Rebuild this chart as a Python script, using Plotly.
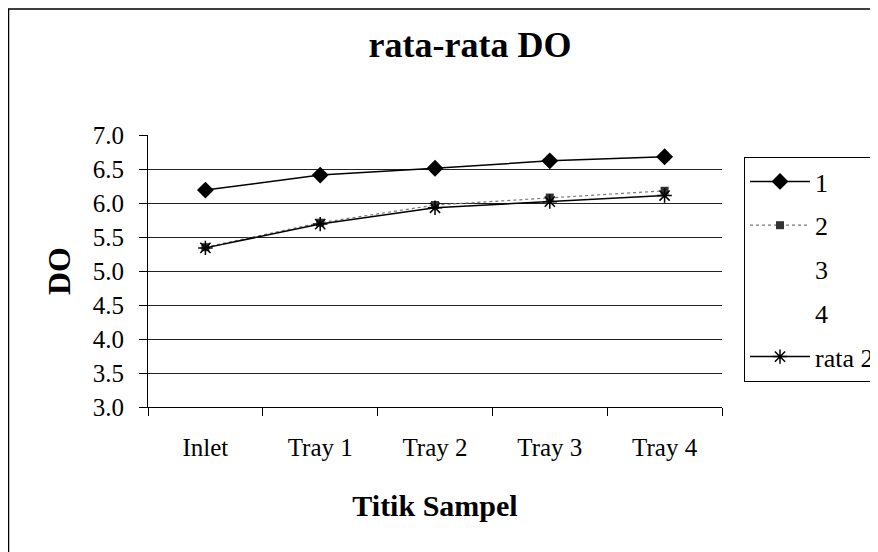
import plotly.graph_objects as go

categories = ["Inlet", "Tray 1", "Tray 2", "Tray 3", "Tray 4"]
series_1 = [6.19, 6.41, 6.51, 6.62, 6.68]
series_2 = [5.35, 5.71, 5.97, 6.08, 6.18]
series_3 = [None, None, None, None, None]
series_4 = [None, None, None, None, None]
rata_2 = [5.34, 5.69, 5.93, 6.02, 6.11]
y_ticks = [3.0, 3.5, 4.0, 4.5, 5.0, 5.5, 6.0, 6.5, 7.0]
grid_vals = [3.5, 4.0, 4.5, 5.0, 5.5, 6.0, 6.5]

FONT = "Liberation Serif"
W, H = 870, 544
L, R, T, B = 140, 156, 127, 145
PW, PH = W - L - R, H - T - B

fig = go.Figure()
fig.add_trace(go.Scatter(
    x=categories, y=series_1, name="1", mode="lines+markers",
    line=dict(color="black", width=1.5),
    marker=dict(symbol="diamond", size=13, color="black"),
    legendgroup="a"))
fig.add_trace(go.Scatter(
    x=categories, y=series_2, name="2", mode="lines+markers",
    line=dict(color="#777777", width=1.2, dash="dot"),
    marker=dict(symbol="square", size=8, color="#333333"),
    legendgroup="b"))
fig.add_trace(go.Scatter(
    x=categories, y=series_3, name="3", mode="lines",
    line=dict(color="rgba(0,0,0,0)", width=1),
    legendgroup="c"))
fig.add_trace(go.Scatter(
    x=categories, y=series_4, name="4", mode="lines",
    line=dict(color="rgba(0,0,0,0)", width=1),
    legendgroup="d"))
fig.add_trace(go.Scatter(
    x=categories, y=rata_2, name="rata 2", mode="lines+markers",
    line=dict(color="black", width=1.5),
    marker=dict(symbol="asterisk-open", size=12, color="black",
                line=dict(color="black", width=1.5)),
    legendgroup="e"))

fig.add_trace(go.Scatter(x=categories, y=[None]*5, yaxis="y2", showlegend=False,
                         hoverinfo="skip"))

fig.update_layout(
    width=W, height=H,
    margin=dict(l=L, r=R, t=T, b=B, autoexpand=False),
    paper_bgcolor="white", plot_bgcolor="white",
    font=dict(family=FONT, color="black", size=25),
    title=dict(text="<b>rata-rata DO</b>", x=462/W, xanchor="center", xref="container",
               y=1 - 36/H, yanchor="middle", yref="container",
               font=dict(family=FONT, size=36, color="black")),
    xaxis=dict(
        type="category", range=[-0.5, 4.5],
        showline=True, linecolor="black", linewidth=1,
        ticks="outside", tickson="boundaries", ticklen=8, tickcolor="black",
        ticklabelstandoff=18,
        showgrid=False, tickfont=dict(size=25, family=FONT),
        title=dict(text="<b>Titik Sampel</b>", font=dict(size=30, family=FONT),
                   standoff=34),
    ),
    yaxis=dict(
        range=[3, 7], tickvals=y_ticks, tickformat=".1f",
        showline=True, linecolor="black", linewidth=1,
        ticks="outside", ticklen=8, tickcolor="black",
        ticklabelstandoff=10,
        showgrid=False, zeroline=False, tickfont=dict(size=25, family=FONT),
        title=dict(text="<b>DO</b>", font=dict(size=32, family=FONT), standoff=12),
    ),
    yaxis2=dict(
        range=[3, 7], overlaying="y", tickvals=grid_vals, showticklabels=False,
        showgrid=True, gridcolor="#222222", gridwidth=1, zeroline=False,
        ticks="",
    ),
    legend=dict(
        x=(736 - L) / PW, y=(H - B - 149) / PH, xanchor="left", yanchor="top",
        bordercolor="black", borderwidth=1, bgcolor="white",
        font=dict(size=26, family=FONT), traceorder="grouped",
        tracegroupgap=7, itemwidth=60,
    ),
    showlegend=True,
    shapes=[dict(type="rect", xref="paper", yref="paper",
                 x0=(0.5 - L) / PW, x1=(W + 10 - L) / PW,
                 y0=(H - B - (H + 10)) / PH, y1=(H - B - 1) / PH,
                 line=dict(color="black", width=1.5), fillcolor="rgba(0,0,0,0)",
                 layer="below")],
)

fig.write_html("out.html")
